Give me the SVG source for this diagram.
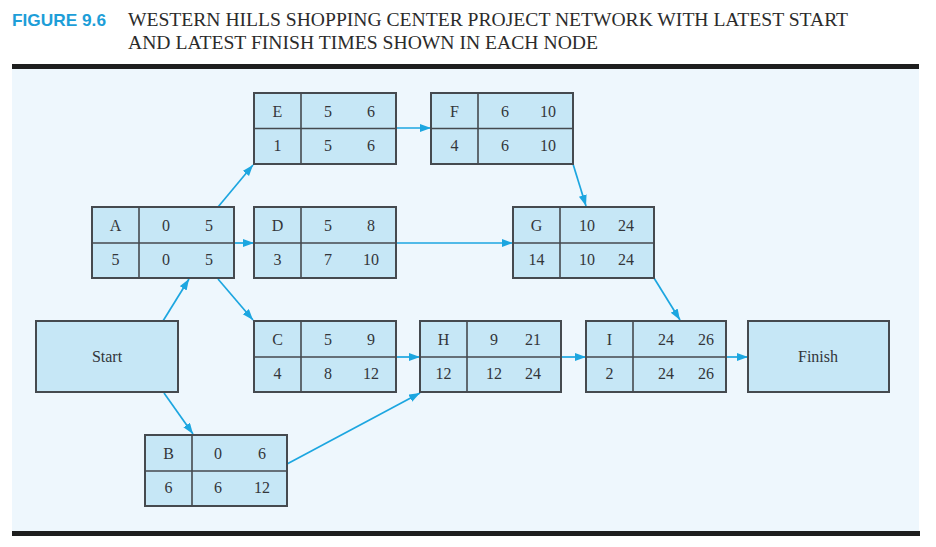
<svg xmlns="http://www.w3.org/2000/svg" width="936" height="547" viewBox="0 0 936 547">
<style>
.box{fill:#c6e7f6;stroke:#454a4f;stroke-width:2}
.div{stroke:#454a4f;stroke-width:1.6;fill:none}
.t{font-family:"Liberation Serif","Times New Roman",serif;font-size:16px;fill:#33363a;text-anchor:middle}
.big{font-family:"Liberation Serif","Times New Roman",serif;font-size:16px;fill:#33363a;text-anchor:middle}
.c{stroke:#1ca6e0;stroke-width:1.7;fill:none;marker-end:url(#ah)}
.title{font-family:"Liberation Serif","Times New Roman",serif;font-size:18px;fill:#2b2b2b}
.fig{font-family:"Liberation Sans",Arial,sans-serif;font-size:17px;font-weight:bold;fill:#1d9ed8}
</style>
<defs>
<marker id="ah" markerUnits="userSpaceOnUse" markerWidth="12" markerHeight="10" refX="11" refY="4" orient="auto">
<path d="M0,0 L11,4 L0,8 Z" fill="#1ca6e0"/>
</marker>
</defs>
<rect width="936" height="547" fill="#ffffff"/>
<text class="fig" x="12" y="26" textLength="94" lengthAdjust="spacingAndGlyphs">FIGURE 9.6</text>
<text class="title" x="128" y="26" textLength="720" lengthAdjust="spacingAndGlyphs">WESTERN HILLS SHOPPING CENTER PROJECT NETWORK WITH LATEST START</text>
<text class="title" x="128" y="49" textLength="470" lengthAdjust="spacingAndGlyphs">AND LATEST FINISH TIMES SHOWN IN EACH NODE</text>
<rect x="12" y="69" width="907" height="463" fill="#eef7fd"/>
<rect x="12" y="64" width="907" height="5" fill="#1e1e1e"/>
<rect x="12" y="531" width="908" height="5" fill="#1e1e1e"/>

<g id="connectors">
<line class="c" x1="163" y1="321" x2="189" y2="279"/>
<line class="c" x1="164" y1="393" x2="193" y2="434"/>
<line class="c" x1="218" y1="207" x2="253" y2="165"/>
<line class="c" x1="234" y1="243" x2="254" y2="243"/>
<line class="c" x1="218" y1="279" x2="253" y2="320"/>
<line class="c" x1="396" y1="128" x2="431" y2="128"/>
<line class="c" x1="396" y1="243" x2="513" y2="243"/>
<line class="c" x1="573" y1="164" x2="586" y2="206"/>
<line class="c" x1="396" y1="357" x2="420" y2="357"/>
<line class="c" x1="287" y1="464" x2="420" y2="393"/>
<line class="c" x1="654" y1="278" x2="680" y2="320"/>
<line class="c" x1="561" y1="357" x2="586" y2="357"/>
<line class="c" x1="726" y1="357" x2="748" y2="357"/>
</g>

<g id="start">
<rect class="box" x="36" y="321" width="142" height="71"/>
<text class="big" x="107" y="362">Start</text>
</g>

<g id="finish">
<rect class="box" x="748" y="321" width="141" height="71"/>
<text class="big" x="818" y="362">Finish</text>
</g>

<g id="node-A">
<rect class="box" x="92" y="207" width="142" height="71"/>
<path class="div" d="M92,243 H234 M139,207 V278"/>
<text class="t" x="115.5" y="231">A</text><text class="t" x="166" y="231">0</text><text class="t" x="209" y="231">5</text>
<text class="t" x="115.5" y="265">5</text><text class="t" x="166" y="265">0</text><text class="t" x="209" y="265">5</text>
</g>

<g id="node-E">
<rect class="box" x="254" y="93" width="142" height="71"/>
<path class="div" d="M254,128.5 H396 M301,93 V164"/>
<text class="t" x="277.5" y="117">E</text><text class="t" x="328" y="117">5</text><text class="t" x="371" y="117">6</text>
<text class="t" x="277.5" y="151">1</text><text class="t" x="328" y="151">5</text><text class="t" x="371" y="151">6</text>
</g>

<g id="node-D">
<rect class="box" x="254" y="207" width="142" height="71"/>
<path class="div" d="M254,243 H396 M301,207 V278"/>
<text class="t" x="277.5" y="231">D</text><text class="t" x="328" y="231">5</text><text class="t" x="371" y="231">8</text>
<text class="t" x="277.5" y="265">3</text><text class="t" x="328" y="265">7</text><text class="t" x="371" y="265">10</text>
</g>

<g id="node-F">
<rect class="box" x="431" y="93" width="142" height="71"/>
<path class="div" d="M431,128.5 H573 M478,93 V164"/>
<text class="t" x="454.5" y="117">F</text><text class="t" x="505" y="117">6</text><text class="t" x="548" y="117">10</text>
<text class="t" x="454.5" y="151">4</text><text class="t" x="505" y="151">6</text><text class="t" x="548" y="151">10</text>
</g>

<g id="node-G">
<rect class="box" x="513" y="207" width="141" height="71"/>
<path class="div" d="M513,243 H654 M560,207 V278"/>
<text class="t" x="536.5" y="231">G</text><text class="t" x="587" y="231">10</text><text class="t" x="626" y="231">24</text>
<text class="t" x="536.5" y="265">14</text><text class="t" x="587" y="265">10</text><text class="t" x="626" y="265">24</text>
</g>

<g id="node-C">
<rect class="box" x="254" y="321" width="142" height="71"/>
<path class="div" d="M254,357 H396 M301,321 V392"/>
<text class="t" x="277.5" y="345">C</text><text class="t" x="328" y="345">5</text><text class="t" x="371" y="345">9</text>
<text class="t" x="277.5" y="379">4</text><text class="t" x="328" y="379">8</text><text class="t" x="371" y="379">12</text>
</g>

<g id="node-H">
<rect class="box" x="420" y="321" width="141" height="71"/>
<path class="div" d="M420,357 H561 M467,321 V392"/>
<text class="t" x="443.5" y="345">H</text><text class="t" x="494" y="345">9</text><text class="t" x="533" y="345">21</text>
<text class="t" x="443.5" y="379">12</text><text class="t" x="494" y="379">12</text><text class="t" x="533" y="379">24</text>
</g>

<g id="node-I">
<rect class="box" x="586" y="321" width="140" height="71"/>
<path class="div" d="M586,357 H726 M633,321 V392"/>
<text class="t" x="609.5" y="345">I</text><text class="t" x="666" y="345">24</text><text class="t" x="706" y="345">26</text>
<text class="t" x="609.5" y="379">2</text><text class="t" x="666" y="379">24</text><text class="t" x="706" y="379">26</text>
</g>

<g id="node-B">
<rect class="box" x="145" y="435" width="142" height="71"/>
<path class="div" d="M145,471 H287 M192,435 V506"/>
<text class="t" x="168.5" y="459">B</text><text class="t" x="218" y="459">0</text><text class="t" x="262" y="459">6</text>
<text class="t" x="168.5" y="493">6</text><text class="t" x="218" y="493">6</text><text class="t" x="262" y="493">12</text>
</g>
</svg>
